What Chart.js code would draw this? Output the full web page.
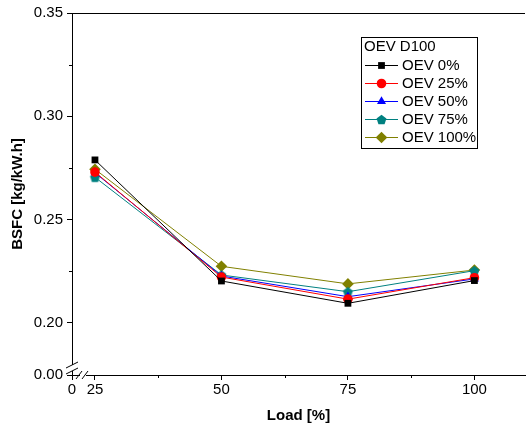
<!DOCTYPE html>
<html>
<head>
<meta charset="utf-8">
<script src="https://cdn.jsdelivr.net/npm/chart.js@4"></script>
<style>
  html, body { margin: 0; padding: 0; background: #fff; }
  #wrap { width: 526px; height: 425px; }
</style>
</head>
<body>
<div id="wrap"><canvas id="bsfcChart" width="526" height="425"></canvas></div>
<script>
// datos
const loads = [25, 50, 75, 100];
const oev0   = [0.2789, 0.2203, 0.2095, 0.2205];
const oev25  = [0.2730, 0.2222, 0.2115, 0.2219];
const oev50  = [0.2727, 0.2227, 0.2127, 0.2213];
const oev75  = [0.2705, 0.2232, 0.2151, 0.2253];
const oev100 = [0.2744, 0.2274, 0.2189, 0.2256];
const seriesLabels = ['OEV 0%', 'OEV 25%', 'OEV 50%', 'OEV 75%', 'OEV 100%'];
const legendTitle = 'OEV D100';
const xTicks = [25, 50, 75, 100];
const yTicks = [0.20, 0.25, 0.30, 0.35];
const xBreakLabel = '0';
const yBreakLabel = '0.00';

// ejes con corte: el inicio de cada eje representa el 0
const X_MIN = 20.46, X_MAX = 110;
const Y_MIN = 0.1748, Y_MAX = 0.35;

const FONT = 'Liberation Sans, Arial, sans-serif';

// marcador pentágono para OEV 75%
function pentagon(color, r) {
    const c = document.createElement('canvas');
    const s = Math.ceil(r * 2 + 2);
    c.width = s; c.height = s;
    const g = c.getContext('2d');
    g.fillStyle = color;
    g.beginPath();
    for (let i = 0; i < 5; i++) {
        const a = -Math.PI / 2 + i * 2 * Math.PI / 5;
        const px = s / 2 + r * Math.cos(a), py = s / 2 + 0.5 + r * Math.sin(a);
        if (i === 0) g.moveTo(px, py); else g.lineTo(px, py);
    }
    g.closePath();
    g.fill();
    return c;
}

const styles = [
    { color: '#000000', point: 'rect', radius: 4.8 },
    { color: '#FF0000', point: 'circle', radius: 4.8 },
    { color: '#0000FF', point: 'triangle', radius: 5.2 },
    { color: '#008080', point: pentagon('#008080', 5.2), radius: 5.2 },
    { color: '#808000', point: 'rectRot', radius: 5.8 }
];
const values = [oev0, oev25, oev50, oev75, oev100];

const datasets = values.map((vals, i) => ({
    label: seriesLabels[i],
    data: loads.map((x, j) => ({ x: x, y: vals[j] })),
    borderColor: styles[i].color,
    backgroundColor: styles[i].color,
    borderWidth: 1,
    pointStyle: styles[i].point,
    pointRadius: styles[i].radius,
    pointBorderWidth: 0,
    tension: 0
}));

// ejes extra, marcas menores, cortes y leyenda
const decorPlugin = {
    id: 'decor',
    afterDraw(chart) {
        const ctx = chart.ctx;
        const a = chart.chartArea;
        const xs = chart.scales.x, ys = chart.scales.y;
        ctx.save();
        ctx.strokeStyle = '#000';
        ctx.lineWidth = 1;

        // línea superior
        ctx.beginPath();
        ctx.moveTo(a.left, a.top + 0.5);
        ctx.lineTo(a.right, a.top + 0.5);
        ctx.stroke();

        // marcas menores
        [0.225, 0.275, 0.325].forEach(v => {
            const py = Math.round(ys.getPixelForValue(v)) + 0.5;
            ctx.beginPath();
            ctx.moveTo(a.left - 3, py);
            ctx.lineTo(a.left, py);
            ctx.stroke();
        });
        [37.5, 62.5, 87.5].forEach(v => {
            const px = Math.round(xs.getPixelForValue(v)) + 0.5;
            ctx.beginPath();
            ctx.moveTo(px, a.bottom);
            ctx.lineTo(px, a.bottom + 3);
            ctx.stroke();
        });

        // cortes de eje
        ctx.fillStyle = '#fff';
        ctx.fillRect(a.left - 1, a.bottom - 10, 3, 6);
        ctx.fillRect(a.left + 8, a.bottom - 1, 6, 3);
        ctx.beginPath();
        ctx.moveTo(a.left - 6, a.bottom - 7); ctx.lineTo(a.left + 6, a.bottom - 13);
        ctx.moveTo(a.left - 6, a.bottom - 1); ctx.lineTo(a.left + 6, a.bottom - 7);
        ctx.moveTo(a.left + 4, a.bottom + 4); ctx.lineTo(a.left + 10, a.bottom - 4);
        ctx.moveTo(a.left + 10, a.bottom + 4); ctx.lineTo(a.left + 16, a.bottom - 4);
        ctx.stroke();

        // leyenda
        const lx = 361, ly = 37, lw = 116, lh = 111;
        ctx.fillStyle = '#fff';
        ctx.fillRect(lx, ly, lw, lh);
        ctx.strokeStyle = '#000';
        ctx.strokeRect(lx + 0.5, ly + 0.5, lw, lh);
        ctx.fillStyle = '#000';
        ctx.font = '15px ' + FONT;
        ctx.textBaseline = 'middle';
        ctx.textAlign = 'left';
        ctx.fillText(legendTitle, lx + 3, ly + 10);
        chart.data.datasets.forEach((ds, i) => {
            const yy = ly + 28 + i * 18;
            ctx.strokeStyle = ds.borderColor;
            ctx.beginPath();
            ctx.moveTo(lx + 4, yy + 0.5);
            ctx.lineTo(lx + 37, yy + 0.5);
            ctx.stroke();
            ctx.fillStyle = ds.backgroundColor;
            Chart.helpers.drawPoint(ctx, {
                pointStyle: ds.pointStyle,
                radius: ds.pointRadius,
                rotation: 0,
                borderWidth: 0
            }, lx + 20.5, yy + 0.5);
            ctx.fillStyle = '#000';
            ctx.fillText(ds.label, lx + 41, yy + 1);
        });
        ctx.restore();
    }
};

new Chart(document.getElementById('bsfcChart').getContext('2d'), {
    type: 'line',
    data: { datasets: datasets },
    options: {
        responsive: false,
        animation: false,
        layout: { autoPadding: false, padding: { left: 0, right: 1, top: 13, bottom: 0 } },
        plugins: { legend: { display: false }, tooltip: { enabled: false } },
        scales: {
            x: {
                type: 'linear',
                min: X_MIN, max: X_MAX,
                afterBuildTicks: s => { s.ticks = [X_MIN].concat(xTicks).map(v => ({ value: v })); },
                afterFit: s => { s.height = 50; },
                border: { color: '#000', width: 1 },
                grid: { drawOnChartArea: false, tickLength: 5, color: '#000' },
                ticks: {
                    color: '#000', padding: 1, maxRotation: 0,
                    font: { family: FONT, size: 15 },
                    callback: v => v < 22 ? xBreakLabel : String(v)
                },
                title: {
                    display: true, text: 'Load [%]', color: '#000',
                    font: { family: FONT, size: 15, weight: 'bold' },
                    padding: { top: 0, bottom: 0 }
                }
            },
            y: {
                type: 'linear',
                min: Y_MIN, max: Y_MAX,
                afterBuildTicks: s => { s.ticks = [Y_MIN].concat(yTicks).map(v => ({ value: v })); },
                afterFit: s => { s.width = 72; },
                border: { color: '#000', width: 1 },
                grid: { drawOnChartArea: false, tickLength: 5, color: '#000' },
                ticks: {
                    color: '#000', padding: 4,
                    font: { family: FONT, size: 15 },
                    callback: v => v < 0.19 ? yBreakLabel : v.toFixed(2)
                },
                title: {
                    display: true, text: 'BSFC [kg/kW.h]', color: '#000',
                    font: { family: FONT, size: 15, weight: 'bold' },
                    padding: { top: 9, bottom: 0 }
                }
            }
        }
    },
    plugins: [decorPlugin]
});
</script>
</body>
</html>
